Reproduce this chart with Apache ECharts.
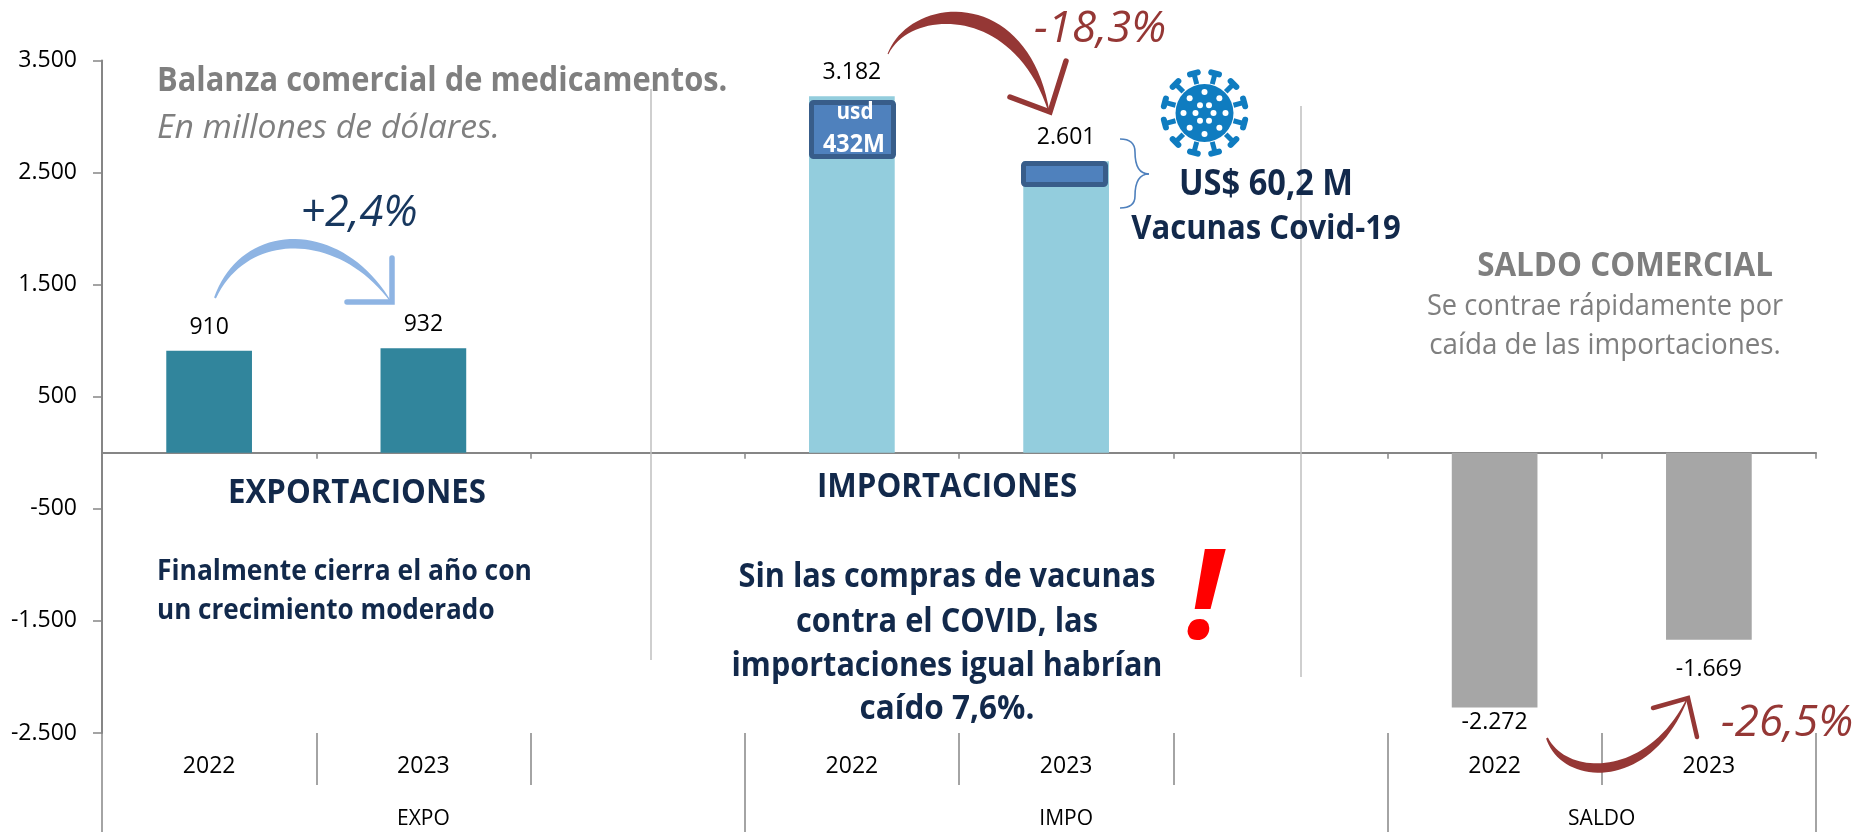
<!DOCTYPE html>
<html><head><meta charset="utf-8">
<style>html,body{margin:0;padding:0;background:#fff}#c{width:1860px;height:832px}</style>
<script src="https://cdn.jsdelivr.net/npm/echarts@6/dist/echarts.min.js"></script>
</head><body><div id="c"></div>
<script>
const years = ['2022','2023','','2022','2023','','2022','2023'];
const groupSlots = ['','','','EXPO','','','','','','IMPO','','','','','SALDO','',''];
const groupBoundaries = [0,6,12,16];
const exportaciones = [910,932,null,null,null,null,null,null];
const importaciones = [null,null,null,3182,2601,null,null,null];
const saldo = [null,null,null,null,null,null,-2272,-1669];

const FONT = '"Open Sans", Lato, sans-serif';
const NAVY = '#12294B', GREY1 = '#7F7F7F', RED = '#953735', BLUEARROW = '#8EB4E3';
const thousands = v => String(Math.abs(v)).replace(/\B(?=(\d{3})+$)/g,'.');
const fmt = v => (v < 0 ? '-' : '') + thousands(v);

const ctx = document.createElement('canvas').getContext('2d');
const gfx = [];
// Text is sized so that it spans the width measured on the reference.
function note(text,x,y,width,fill,opts){
  opts = opts||{};
  const prefix=(opts.italic?'italic ':'')+(opts.bold?'bold ':'');
  ctx.font=prefix+'100px '+FONT;
  const size=Math.round(100*width/ctx.measureText(text).width*10)/10;
  const sy=opts.italic?1:1.08;
  gfx.push({type:'text',z:20,silent:true,originX:x,originY:y+1,scaleY:sy,style:{text,x,y:y+1,fill,textAlign:opts.align||'center',textVerticalAlign:'middle',
    font:prefix+size+'px '+FONT}});
}
function vline(x,y1,y2){gfx.push({type:'line',z:1,silent:true,shape:{x1:x,y1,x2:x,y2},style:{stroke:'#BFBFBF',lineWidth:1.5}});}
function taper(p,w0,w1,bump,fill,skew){
  const L=[],R=[];
  for(let i=0;i<=40;i++){
    const t=i/40,u=1-t;
    const x=u*u*u*p[0][0]+3*u*u*t*p[1][0]+3*u*t*t*p[2][0]+t*t*t*p[3][0];
    const y=u*u*u*p[0][1]+3*u*u*t*p[1][1]+3*u*t*t*p[2][1]+t*t*t*p[3][1];
    const dx=3*u*u*(p[1][0]-p[0][0])+6*u*t*(p[2][0]-p[1][0])+3*t*t*(p[3][0]-p[2][0]);
    const dy=3*u*u*(p[1][1]-p[0][1])+6*u*t*(p[2][1]-p[1][1])+3*t*t*(p[3][1]-p[2][1]);
    const n=Math.hypot(dx,dy)||1;
    const w=(w0*u+w1*t+bump*Math.sin(Math.PI*Math.pow(t,skew||1)))/2;
    L.push([x-dy/n*w,y+dx/n*w]);R.unshift([x+dy/n*w,y-dx/n*w]);
  }
  gfx.push({type:'polygon',z:15,silent:true,shape:{points:L.concat(R)},style:{fill}});
}
function head(points,stroke,w){gfx.push({type:'polyline',z:15,silent:true,shape:{points},style:{stroke,lineWidth:w,lineCap:'round',lineJoin:'miter',fill:null}});}
function brace(a){a.forEach(s=>gfx.push({type:'bezierCurve',z:15,silent:true,shape:{x1:s[0],y1:s[1],cpx1:s[2],cpy1:s[3],cpx2:s[4],cpy2:s[5],x2:s[6],y2:s[7]},style:{stroke:'#4F81BD',lineWidth:1.6,fill:null}}));}
function box(x,y,w,h){gfx.push({type:'rect',z:12,silent:true,shape:{x,y,width:w,height:h,r:2},style:{fill:'#4F81BD',stroke:'#385D8A',lineWidth:5}});}

vline(651,89,660); vline(1301,106,677);

// Arrows
taper([[215,298],[245,225],[340,225],[391,302]],2,1,8,BLUEARROW);
head([[347,302],[392,302],[392,258]],BLUEARROW,5.5);
taper([[888,54],[910,3],[1020,-7],[1049,112]],1,1,13,RED,1.3);
head([[1010,97],[1050,112],[1066,61]],RED,5.5);
taper([[1547,738],[1565,782],[1650,785],[1688,697]],2,1,8,RED);
head([[1653,708],[1688,698],[1697,737]],RED,4.5);

// Vaccine boxes
box(811.5,102.5,82,54); box(1023.5,163.5,82,21);
note('usd',855,112,37,'#fff',{bold:true});
note('432M',854,144,62,'#fff',{bold:true});

// Brace
brace([[1120,139,1130,139,1135,143,1135,152],[1135,152,1135,168,1140,174,1149,174],
       [1149,174,1140,174,1135,180,1135,196],[1135,196,1135,204,1130,208,1120,208]]);

// Virus icon
const VX=1204.5,VY=113,VC='#0F7CC0';
for(let i=0;i<12;i++){
  const a=(15+30*i)*Math.PI/180,c=Math.cos(a),s=Math.sin(a);
  gfx.push({type:'line',z:14,silent:true,shape:{x1:VX+c*30,y1:VY+s*30,x2:VX+c*41,y2:VY+s*41},style:{stroke:VC,lineWidth:5}});
  gfx.push({type:'line',z:14,silent:true,shape:{x1:VX+c*41-s*4,y1:VY+s*41+c*4,x2:VX+c*41+s*4,y2:VY+s*41-c*4},style:{stroke:VC,lineWidth:6,lineCap:'round'}});
}
gfx.push({type:'circle',z:15,silent:true,shape:{cx:VX,cy:VY,r:29},style:{fill:VC}});
[[8,21,0],[6,9,30]].forEach(r=>{
  for(let i=0;i<r[0];i++){const a=(r[2]+i*360/r[0]-90)*Math.PI/180;
    gfx.push({type:'circle',z:16,silent:true,shape:{cx:VX+Math.cos(a)*r[1],cy:VY+Math.sin(a)*r[1],r:3},style:{fill:'#fff'}});}
});

// Texts
note('Balanza comercial de medicamentos.',157,81,570,GREY1,{bold:true,align:'left'});
note('En millones de dólares.',157,127,343,GREY1,{italic:true,align:'left'});
note('+2,4%',359,213,117,'#17375E',{italic:true});
note('-18,3%',1100,28,132,RED,{italic:true});
note('-26,5%',1787,722,132,RED,{italic:true});
note('EXPORTACIONES',357,492,258,NAVY,{bold:true});
note('Finalmente cierra el año con',157,571,375,NAVY,{bold:true,align:'left'});
note('un crecimiento moderado',157,610,338,NAVY,{bold:true,align:'left'});
note('IMPORTACIONES',947,486,260,NAVY,{bold:true});
note('Sin las compras de vacunas',947,577,417,NAVY,{bold:true});
note('contra el COVID, las',947,622,302,NAVY,{bold:true});
note('importaciones igual habrían',947,666,431,NAVY,{bold:true});
note('caído 7,6%.',947,708,175,NAVY,{bold:true});
note('!',1204,601,36,'#FF0000',{bold:true,italic:true});
note('US$ 60,2 M',1266,184,174,NAVY,{bold:true});
note('Vacunas Covid-19',1266,228,270,NAVY,{bold:true});
note('SALDO COMERCIAL',1625,265,296,GREY1,{bold:true});
note('Se contrae rápidamente por',1605,306,357,GREY1);
note('caída de las importaciones.',1605,344,352,GREY1);

const axisCol = '#868686';
function barSeries(name,data,color,labelPos){
  return {name,type:'bar',stack:'total',barWidth:'40%',xAxisIndex:0,yAxisIndex:0,data,
    itemStyle:{color},
    label:{show:true,position:labelPos,distance:12,color:'#000',fontFamily:FONT,fontSize:23,
      formatter:p=>p.value==null?'':fmt(p.value)}};
}
const saldoSeries = barSeries('SALDO',saldo.map((v,i)=> i===7 ? {value:v,label:{distance:18}} : v),'#A6A6A6','bottom');
saldoSeries.label.distance=4;

const chart = echarts.init(document.getElementById('c'),null,{renderer:'canvas'});
chart.setOption({
  animation:false,
  backgroundColor:'#fff',
  grid:{left:102,right:44,top:60.5,bottom:99,containLabel:false},
  xAxis:[
    {type:'category',data:years,position:'bottom',axisLine:{onZero:true,lineStyle:{color:axisCol,width:2}},
     axisTick:{show:true,length:6,lineStyle:{color:axisCol,width:1.5}},axisLabel:{show:false}},
    {type:'category',data:years,position:'bottom',axisLine:{show:false,onZero:false},
     axisTick:{show:true,length:52,lineStyle:{color:axisCol,width:1.5}},
     axisLabel:{show:true,interval:0,margin:22,color:'#000',fontFamily:FONT,fontSize:23}},
    {type:'category',data:groupSlots,boundaryGap:false,position:'bottom',axisLine:{show:false,onZero:false},
     axisTick:{show:true,length:100,interval:i=>groupBoundaries.includes(i),lineStyle:{color:axisCol,width:1.5}},
     axisLabel:{show:true,interval:0,margin:76,color:'#000',fontFamily:FONT,fontSize:21}}
  ],
  yAxis:{type:'value',min:-2500,max:3500,interval:1000,splitLine:{show:false},
    axisLine:{show:true,onZero:false,lineStyle:{color:axisCol,width:2}},
    axisTick:{show:true,length:9,lineStyle:{color:axisCol,width:1.5}},
    axisLabel:{margin:25,color:'#000',fontFamily:FONT,fontSize:23,formatter:fmt}},
  series:[
    barSeries('EXPO',exportaciones,'#31859C','top'),
    barSeries('IMPO',importaciones,'#93CDDD','top'),
    saldoSeries
  ],
  graphic:gfx
});
</script></body></html>
